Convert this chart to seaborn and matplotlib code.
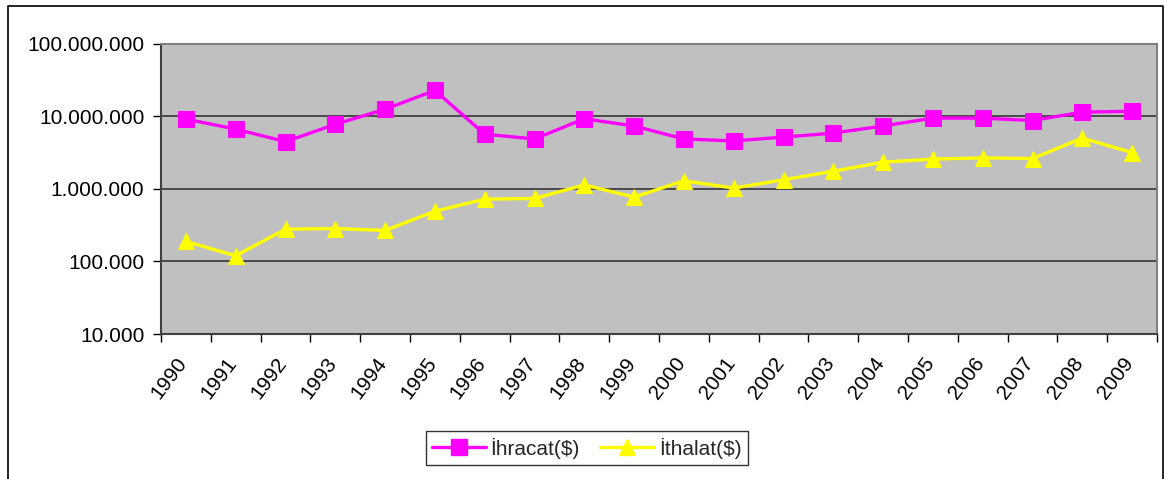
import matplotlib
matplotlib.use("Agg")
import matplotlib.pyplot as plt
import matplotlib.ticker as mticker
import matplotlib.transforms as mtransforms
from matplotlib.lines import Line2D
import seaborn as sns
import pandas as pd
import numpy as np

years = [str(y) for y in range(1990, 2010)]
ihracat = [9.2e6, 6.7e6, 4.5e6, 7.8e6, 12.6e6, 22.9e6, 5.7e6, 4.9e6, 9.3e6, 7.4e6,
           4.9e6, 4.6e6, 5.2e6, 5.9e6, 7.4e6, 9.5e6, 9.5e6, 8.8e6, 11.5e6, 11.8e6]
ithalat = [189e3, 120e3, 279e3, 285e3, 268e3, 494e3, 724e3, 740e3, 1.14e6, 771e3,
           1.30e6, 1.03e6, 1.34e6, 1.76e6, 2.35e6, 2.58e6, 2.69e6, 2.63e6, 5.03e6, 3.18e6]
series_names = ["İhracat($)", "İthalat($)"]
y_ticks = [1e4, 1e5, 1e6, 1e7, 1e8]

sns.set_theme(style="white")
plt.rcParams['font.family'] = ['Liberation Sans', 'DejaVu Sans']

df = pd.DataFrame({"Yıl": years * 2,
                   "Değer": ihracat + ithalat,
                   "Seri": [series_names[0]] * len(years) + [series_names[1]] * len(years)})

fig = plt.figure(figsize=(11.67, 4.79), dpi=100)
ax = fig.add_axes([161 / 1167, 1 - 334 / 479, (1157 - 161) / 1167, (334 - 44) / 479])
ax.set_facecolor("#C0C0C0")

palette = {series_names[0]: "#FF00FF", series_names[1]: "#FFFF00"}
markers = {series_names[0]: "s", series_names[1]: "^"}
sns.lineplot(data=df, x="Yıl", y="Değer", hue="Seri", style="Seri", palette=palette,
             markers=markers, dashes=False, linewidth=2.4, markersize=11.5,
             ax=ax, legend=False, zorder=3)
for ln in ax.lines:
    ln.set_markeredgecolor(ln.get_color())

ax.set_yscale("log")
ax.set_ylim(1e4, 1e8)
ax.set_xlim(-0.5, len(years) - 0.5)
ax.set_yticks(y_ticks)
ax.yaxis.set_minor_locator(mticker.NullLocator())
ax.yaxis.set_major_formatter(mticker.FuncFormatter(lambda v, p: f"{int(round(v)):,}".replace(",", ".")))
ax.grid(axis="y", which="major", color="#404040", linewidth=1.3)
ax.set_axisbelow(True)

ax.set_xticks(range(len(years)))
ax.set_xticklabels(years, rotation=53, ha="right", va="top", rotation_mode="anchor")
ax.set_xticks(np.arange(-0.5, len(years)), minor=True)
ax.tick_params(axis="x", which="major", length=0, pad=14, labelsize=15, colors="black")
ax.tick_params(axis="x", which="minor", length=6, width=1, color="black", direction="out", bottom=True)
ax.tick_params(axis="y", which="major", length=6, width=1, color="black", direction="out", left=True,
               labelsize=15, labelcolor="black", pad=6)
offset = mtransforms.ScaledTranslation(-10 / 100, 0, fig.dpi_scale_trans)
for lbl in ax.get_xticklabels():
    lbl.set_transform(lbl.get_transform() + offset)
ax.set_xlabel("")
ax.set_ylabel("")
for side in ["left", "bottom"]:
    ax.spines[side].set_color("#404040")
    ax.spines[side].set_linewidth(1.5)
for side in ["top", "right"]:
    ax.spines[side].set_color("#808080")
    ax.spines[side].set_linewidth(1.5)

handles = [Line2D([], [], color="#FF00FF", marker="s", markersize=11.5, linewidth=2.4),
           Line2D([], [], color="#FFFF00", marker="^", markersize=11.5, linewidth=2.4)]
leg = fig.legend(handles, series_names, loc="center", bbox_to_anchor=(586.5 / 1167, 1 - 448 / 479),
                 ncol=2, frameon=True, fontsize=15, fancybox=False, edgecolor="black",
                 handlelength=2.6, handletextpad=0.2, columnspacing=1.0, borderpad=0.3)
leg.get_frame().set_linewidth(1.0)

# outer chart border
fig.add_artist(Line2D([8 / 1167, 8 / 1167, 1163 / 1167, 1163 / 1167],
                      [-0.01, 1 - 6 / 479, 1 - 6 / 479, -0.01],
                      transform=fig.transFigure, color="black", linewidth=1.2))

fig.savefig("out.png", dpi=100, facecolor="white")
